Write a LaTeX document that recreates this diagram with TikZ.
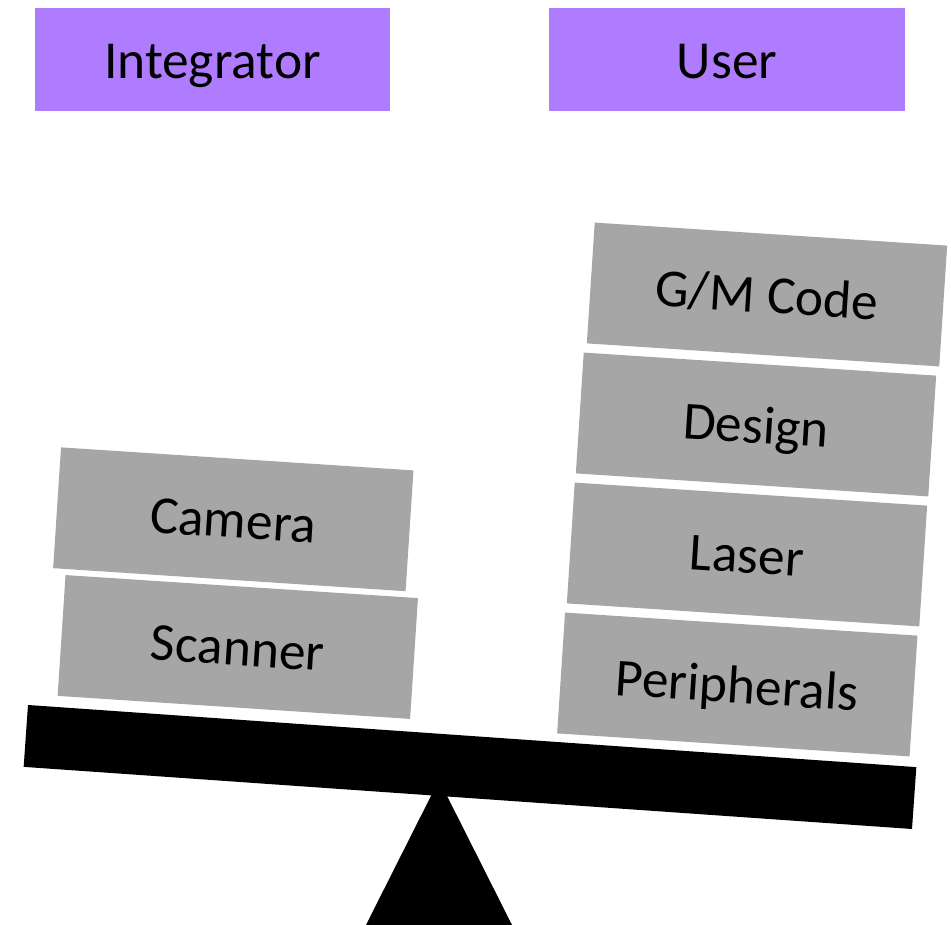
\documentclass[tikz,border=0pt]{standalone}
\usepackage{fontspec}
\setmainfont{Carlito}
\definecolor{headpurple}{HTML}{B07CFF}
\definecolor{weightgray}{HTML}{A6A6A6}
\begin{document}
\begin{tikzpicture}[x=0.01cm,y=-0.01cm]
      \useasboundingbox (0,0) rectangle (951,925);

      \begin{scope}[every node/.style={fill=headpurple,inner sep=0pt,
          minimum width=3.55cm,minimum height=1.03cm,
          text height=0.4cm,text depth=0.03cm,
          font=\fontsize{15.2}{18}\selectfont}]
        \node (integrator) at (212.5,59.5) {Integrator};
        \node (user)       at (727,59.5)   {User};
      \end{scope}

      % fulcrum under the beam
      \coordinate (fl) at (366,925);
      \coordinate (fa) at (439,780);
      \coordinate (fr) at (512,925);
      \fill (fl) -- (fa) -- (fr) -- cycle;

      \node (beam) [fill=black,rotate=-4,inner sep=0pt,
        minimum width=8.90cm,minimum height=0.62cm] at (470,767) {};

      \begin{scope}[every node/.style={fill=weightgray,inner sep=0pt,
          rotate=-3.74,minimum width=3.53cm,minimum height=1.21cm,
          text height=0.4cm,text depth=0.03cm,
          font=\fontsize{15.2}{18}\selectfont}]
        \node (camera)      at (233.3,519.3) {Camera};
        \node (scanner)     at (237.8,647)   {Scanner};
        \node (gmcode)      at (767,294.5)   {G/M Code};
        \node (design)      at (756,424.5)   {Design};
        \node (laser)       at (747,554.5)   {Laser};
        \node (peripherals) at (737.3,684.5) {Peripherals};
      \end{scope}

    \end{tikzpicture}
\end{document}
